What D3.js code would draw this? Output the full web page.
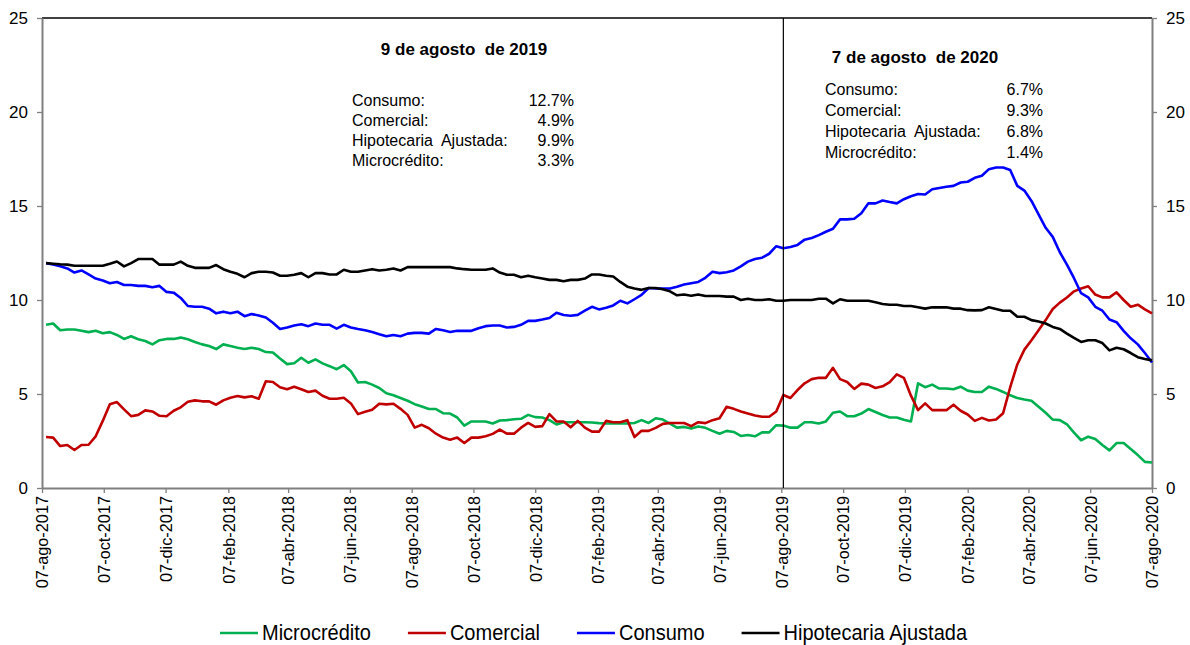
<!DOCTYPE html>
<html>
<head>
<meta charset="utf-8">
<script src="https://cdn.jsdelivr.net/npm/d3@7"></script>
<style>
  body { margin: 0; background: #fff; }
  svg { font-family: "Liberation Sans", Arial, sans-serif; }
</style>
</head>
<body>
<div class="chart"></div>
<script>
// weekly data, 11-ago-2017 .. 07-ago-2020
const microcredito = [
  8.68,8.75,8.39,8.43,8.43,8.36,8.29,8.36,8.23,8.29,8.14,7.93,8.07,7.91,7.82,7.64,7.86,7.93,7.93,8.0,
  7.91,7.77,7.64,7.55,7.39,7.64,7.55,7.46,7.39,7.46,7.39,7.23,7.21,6.89,6.59,6.64,6.93,6.66,6.84,6.63,
  6.48,6.32,6.54,6.21,5.61,5.64,5.5,5.32,5.04,4.93,4.79,4.64,4.46,4.34,4.2,4.2,3.98,3.96,3.75,3.32,
  3.54,3.54,3.54,3.43,3.59,3.61,3.66,3.68,3.89,3.77,3.75,3.61,3.38,3.5,3.5,3.5,3.5,3.48,3.45,3.43,
  3.43,3.43,3.43,3.46,3.61,3.46,3.71,3.64,3.43,3.21,3.25,3.16,3.27,3.2,3.04,2.89,3.04,2.98,2.77,2.82,
  2.75,2.96,2.96,3.34,3.32,3.21,3.21,3.5,3.5,3.43,3.54,4.0,4.07,3.82,3.82,3.96,4.2,4.04,3.88,3.75,
  3.75,3.63,3.54,5.57,5.36,5.5,5.29,5.29,5.25,5.39,5.18,5.11,5.11,5.39,5.27,5.11,4.93,4.79,4.71,4.64,
  4.32,4.0,3.64,3.61,3.39,2.95,2.54,2.73,2.61,2.29,2.0,2.39,2.39,2.07,1.75,1.39,1.36
];
const comercial = [
  2.71,2.68,2.23,2.29,2.02,2.29,2.3,2.75,3.57,4.46,4.57,4.18,3.82,3.89,4.13,4.07,3.84,3.82,4.11,4.29,
  4.59,4.66,4.61,4.61,4.43,4.66,4.8,4.89,4.82,4.88,4.75,5.68,5.64,5.36,5.25,5.39,5.25,5.11,5.18,4.91,
  4.75,4.75,4.8,4.5,3.93,4.05,4.16,4.48,4.45,4.48,4.21,3.89,3.21,3.36,3.18,2.89,2.68,2.57,2.68,2.39,
  2.68,2.68,2.75,2.88,3.11,2.89,2.89,3.21,3.46,3.25,3.29,3.93,3.54,3.54,3.23,3.57,3.21,3.0,3.0,3.57,
  3.5,3.5,3.61,2.71,3.04,3.04,3.2,3.41,3.46,3.46,3.46,3.29,3.5,3.45,3.61,3.71,4.32,4.21,4.07,3.96,
  3.86,3.79,3.79,4.07,4.95,4.79,5.21,5.57,5.79,5.86,5.86,6.39,5.79,5.64,5.27,5.55,5.5,5.32,5.41,5.63,
  6.04,5.86,4.91,4.14,4.5,4.14,4.14,4.14,4.43,4.11,3.91,3.57,3.73,3.59,3.64,3.98,5.36,6.57,7.36,7.86,
  8.39,8.93,9.52,9.86,10.13,10.46,10.61,10.73,10.29,10.14,10.14,10.41,10.0,9.64,9.75,9.5,9.29
];
const consumo = [
  11.96,11.89,11.79,11.68,11.46,11.57,11.36,11.14,11.04,10.89,10.96,10.8,10.8,10.75,10.75,10.68,10.75,10.43,10.39,10.11,
  9.68,9.64,9.64,9.54,9.29,9.38,9.3,9.38,9.14,9.25,9.18,9.07,8.79,8.46,8.54,8.64,8.71,8.61,8.75,8.68,
  8.68,8.48,8.68,8.54,8.46,8.39,8.3,8.18,8.07,8.14,8.07,8.21,8.25,8.25,8.21,8.46,8.39,8.3,8.36,8.36,
  8.36,8.5,8.61,8.64,8.64,8.54,8.57,8.68,8.89,8.89,8.96,9.04,9.32,9.2,9.16,9.21,9.43,9.64,9.5,9.59,
  9.71,9.96,9.82,10.04,10.27,10.64,10.61,10.61,10.61,10.71,10.82,10.89,10.96,11.18,11.5,11.43,11.48,11.57,11.79,12.04,
  12.18,12.25,12.46,12.86,12.75,12.82,12.93,13.21,13.3,13.45,13.63,13.79,14.29,14.29,14.32,14.61,15.14,15.14,15.29,15.21,
  15.14,15.36,15.52,15.64,15.61,15.89,15.96,16.02,16.07,16.25,16.29,16.5,16.61,16.96,17.05,17.05,16.91,16.07,15.82,15.27,
  14.55,13.84,13.36,12.54,11.88,11.16,10.36,10.14,9.64,9.43,8.96,8.82,8.36,7.96,7.64,7.18,6.68
];
const hipotecaria = [
  11.96,11.93,11.9,11.88,11.82,11.82,11.82,11.82,11.82,11.93,12.05,11.79,11.96,12.18,12.18,12.18,11.88,11.88,11.88,12.04,
  11.82,11.71,11.71,11.71,11.86,11.64,11.5,11.39,11.21,11.43,11.5,11.5,11.46,11.29,11.29,11.34,11.43,11.21,11.43,11.43,
  11.36,11.36,11.61,11.5,11.5,11.57,11.64,11.57,11.61,11.68,11.57,11.75,11.75,11.75,11.75,11.75,11.75,11.75,11.68,11.64,
  11.61,11.61,11.61,11.68,11.46,11.34,11.34,11.21,11.29,11.21,11.14,11.07,11.07,11.0,11.07,11.07,11.14,11.36,11.36,11.29,
  11.25,10.96,10.71,10.61,10.54,10.64,10.64,10.57,10.46,10.25,10.29,10.23,10.29,10.21,10.21,10.21,10.18,10.18,10.0,10.07,
  10.0,10.0,10.04,9.96,9.96,10.0,10.0,10.0,10.0,10.07,10.07,9.82,10.04,9.96,9.96,9.96,9.96,9.88,9.79,9.75,
  9.75,9.68,9.68,9.61,9.54,9.61,9.61,9.61,9.54,9.54,9.46,9.45,9.46,9.61,9.52,9.43,9.43,9.11,9.11,8.93,
  8.86,8.75,8.57,8.46,8.21,7.98,7.77,7.86,7.86,7.71,7.32,7.46,7.38,7.18,6.96,6.86,6.79
];

const tickLabels = ["07-ago-2017","07-oct-2017","07-dic-2017","07-feb-2018","07-abr-2018","07-jun-2018",
  "07-ago-2018","07-oct-2018","07-dic-2018","07-feb-2019","07-abr-2019","07-jun-2019","07-ago-2019",
  "07-oct-2019","07-dic-2019","07-feb-2020","07-abr-2020","07-jun-2020","07-ago-2020"];
const yTicks = [0, 5, 10, 15, 20, 25];

const series = [
  {name: "Microcrédito", values: microcredito, color: "#00b050"},
  {name: "Comercial", values: comercial, color: "#c00000"},
  {name: "Consumo", values: consumo, color: "#0000ff"},
  {name: "Hipotecaria Ajustada", values: hipotecaria, color: "#000000"}
];

const notes = [
  {date: "2019-08-09", title: "9 de agosto  de 2019",
   rows: [["Consumo:", "12.7%"], ["Comercial:", "4.9%"], ["Hipotecaria  Ajustada:", "9.9%"], ["Microcrédito:", "3.3%"]]},
  {date: "2020-08-07", title: "7 de agosto  de 2020",
   rows: [["Consumo:", "6.7%"], ["Comercial:", "9.3%"], ["Hipotecaria  Ajustada:", "6.8%"], ["Microcrédito:", "1.4%"]]}
];

const meses = {ene:0, feb:1, mar:2, abr:3, may:4, jun:5, jul:6, ago:7, sep:8, oct:9, nov:10, dic:11};
const parseLabel = s => { const p = s.split("-"); return new Date(+p[2], meses[p[1]], +p[0]); };

const start = new Date(2017, 7, 11);
const dates = consumo.map((d, i) => d3.timeDay.offset(start, 7 * i));

const W = 1190, H = 645;
const margin = {top: 18, right: 38, bottom: 157, left: 42};

const svg = d3.select('.chart').append('svg')
  .attr('width', W).attr('height', H);

const x = d3.scaleTime()
  .domain([parseLabel(tickLabels[0]), parseLabel(tickLabels[tickLabels.length - 1])])
  .range([margin.left, W - margin.right]);
const y = d3.scaleLinear().domain([0, 25]).range([H - margin.bottom, margin.top]);

const axisColor = "#808080";
function styleAxis(g) {
  g.select('.domain').attr('stroke', axisColor).attr('stroke-width', 2);
  g.selectAll('.tick line').attr('stroke', axisColor).attr('stroke-width', 1.3);
  g.selectAll('.tick text').attr('fill', '#000');
}

// top border
svg.append('line')
  .attr('x1', margin.left).attr('x2', W - margin.right)
  .attr('y1', y(25)).attr('y2', y(25))
  .attr('stroke', '#000').attr('stroke-width', 1.5);

svg.append('g')
  .attr('transform', `translate(${margin.left},0)`)
  .call(d3.axisLeft(y).tickValues(yTicks).tickSize(5).tickSizeOuter(0).tickPadding(9))
  .call(styleAxis)
  .selectAll('text').style('font-size', '17px');

svg.append('g')
  .attr('transform', `translate(${W - margin.right},0)`)
  .call(d3.axisRight(y).tickValues(yTicks).tickSize(5).tickSizeOuter(0).tickPadding(9))
  .call(styleAxis)
  .selectAll('text').style('font-size', '17px');

const xAxis = d3.axisBottom(x)
  .tickValues(tickLabels.map(parseLabel))
  .tickFormat((d, i) => tickLabels[i])
  .tickSize(5).tickSizeOuter(0);

svg.append('g')
  .attr('transform', `translate(0,${y(0)})`)
  .call(xAxis)
  .call(styleAxis)
  .selectAll('text')
  .style('font-size', '16.3px')
  .attr('text-anchor', 'end')
  .attr('x', -8).attr('y', 0).attr('dy', '0.36em')
  .attr('transform', 'rotate(-90)');

// lines
const line = d3.line()
  .x((d, i) => x(dates[i]))
  .y(d => y(d));

svg.selectAll('.serie')
  .data(series)
  .enter()
  .append('path')
  .attr('class', 'serie')
  .attr('d', d => line(d.values))
  .attr('fill', 'none')
  .attr('stroke', d => d.color)
  .attr('stroke-width', 2.6)
  .attr('stroke-linejoin', 'round');

// vertical marker
svg.append('line')
  .attr('x1', x(new Date(2019, 7, 9))).attr('x2', x(new Date(2019, 7, 9)))
  .attr('y1', y(25)).attr('y2', y(0))
  .attr('stroke', '#000').attr('stroke-width', 1.2);

// annotation boxes
const boxes = [
  {tx: 464, ty: 55, lx: 352, vx: 574, ly: 106, dy: 20},
  {tx: 915, ty: 63, lx: 825, vx: 1043, ly: 95, dy: 21}
];
notes.forEach((n, k) => {
  const b = boxes[k];
  svg.append('text')
    .attr('x', b.tx).attr('y', b.ty)
    .attr('text-anchor', 'middle')
    .style('font-size', '17px').style('font-weight', 'bold')
    .style('white-space', 'pre')
    .text(n.title);
  n.rows.forEach((r, j) => {
    svg.append('text')
      .attr('x', b.lx).attr('y', b.ly + j * b.dy)
      .style('font-size', '16px').style('white-space', 'pre')
      .text(r[0]);
    svg.append('text')
      .attr('x', b.vx).attr('y', b.ly + j * b.dy)
      .attr('text-anchor', 'end')
      .style('font-size', '16px')
      .text(r[1]);
  });
});

// legend (text a bit taller than wide, like the original)
let lx = 220;
series.forEach(s => {
  svg.append('line')
    .attr('x1', lx).attr('x2', lx + 38)
    .attr('y1', 633).attr('y2', 633)
    .attr('stroke', s.color).attr('stroke-width', 2.6);
  const t = svg.append('text')
    .attr('x', lx + 42).attr('y', 639.5)
    .style('font-size', '20px')
    .text(s.name);
  const w = t.node().getComputedTextLength();
  t.style('font-size', '22px')
    .attr('textLength', w)
    .attr('lengthAdjust', 'spacingAndGlyphs');
  lx += 42 + w + 37;
});
</script>
</body>
</html>
